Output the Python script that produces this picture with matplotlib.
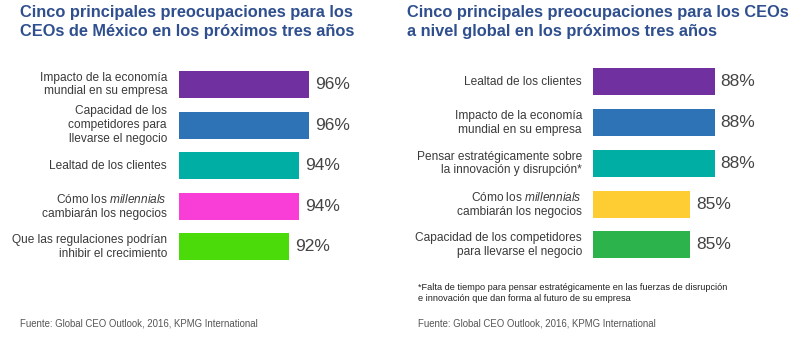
import matplotlib
matplotlib.use("Agg")
import matplotlib.pyplot as plt

plt.rcParams['font.family'] = ['Liberation Sans', 'DejaVu Sans']
plt.rcParams['mathtext.fontset'] = 'custom'
plt.rcParams['mathtext.rm'] = 'Liberation Sans'
plt.rcParams['mathtext.it'] = 'Liberation Sans:italic'

# Mexico panel
mx_labels = ["Impacto de la economía\nmundial en su empresa",
             "Capacidad de los\ncompetidores para\nllevarse el negocio",
             "Lealtad de los clientes",
             "Cómo los $\\it{millennials}$\ncambiarán los negocios",
             "Que las regulaciones podrían\ninhibir el crecimiento"]
mx_values = [96, 96, 94, 94, 92]
mx_colors = ["#7030a0", "#2e73b6", "#00aea3", "#f93ed8", "#4bdb0b"]

# global panel
gl_labels = ["Lealtad de los clientes",
             "Impacto de la economía\nmundial en su empresa",
             "Pensar estratégicamente sobre\nla innovación y disrupción*",
             "Cómo los $\\it{millennials}$\ncambiarán los negocios",
             "Capacidad de los competidores\npara llevarse el negocio"]
gl_values = [88, 88, 88, 85, 85]
gl_colors = ["#7030a0", "#2e73b6", "#00aea3", "#fecc33", "#2db34b"]

W, H = 800, 342
fig = plt.figure(figsize=(W / 100, H / 100), dpi=100)
title_color = "#2f4f8e"
text_color = "#3a3a3a"


def panel(x0, top, pitch, base, px_per, labels, values, colors, label_gap):
    width = 200
    ax = fig.add_axes([x0 / W, 1 - (top + 5 * pitch) / H, width / W, 5 * pitch / H])
    ax.barh(range(5), [v - base for v in values], left=base, height=27 / pitch,
            color=colors)
    ax.set_xlim(base, base + width / px_per)
    ax.set_ylim(4.5, -0.5)
    ax.axis("off")
    for i, (lab, v) in enumerate(zip(labels, values)):
        ax.text(base - label_gap / px_per, i, lab, ha="right", va="center",
                fontsize=8.6, color=text_color, linespacing=1.2)
        ax.text(v + 6 / px_per, i, f"{v}%", ha="left", va="center",
                fontsize=12.5, color="#444444")
    return ax


panel(179, 64.2, 40.6, 70, 5.0, mx_labels, mx_values, mx_colors, 12)
panel(593, 61.6, 40.75, 73, 8.1, gl_labels, gl_values, gl_colors, 11)

fig.text(20 / W, 1 - 5 / H, "Cinco principales preocupaciones para los\nCEOs de México en los próximos tres años",
         ha="left", va="top", fontsize=11.8, fontweight="bold", color=title_color,
         linespacing=1.3)
fig.text(407 / W, 1 - 5 / H, "Cinco principales preocupaciones para los CEOs\na nivel global en los próximos tres años",
         ha="left", va="top", fontsize=11.8, fontweight="bold", color=title_color,
         linespacing=1.3)

fig.text(418 / W, 1 - 293 / H,
         "*Falta de tiempo para pensar estratégicamente en las fuerzas de disrupción\n"
         "e innovación que dan forma al futuro de su empresa",
         ha="left", va="center", fontsize=6.6, color="#222222", linespacing=1.35)

source = "Fuente: Global CEO Outlook, 2016, KPMG International"
fig.text(20 / W, 1 - 323 / H, source, ha="left", va="center", fontsize=6.9, color="#555555")
fig.text(418 / W, 1 - 323 / H, source, ha="left", va="center", fontsize=6.9, color="#555555")

fig.savefig("out.png", dpi=100, facecolor="white")
